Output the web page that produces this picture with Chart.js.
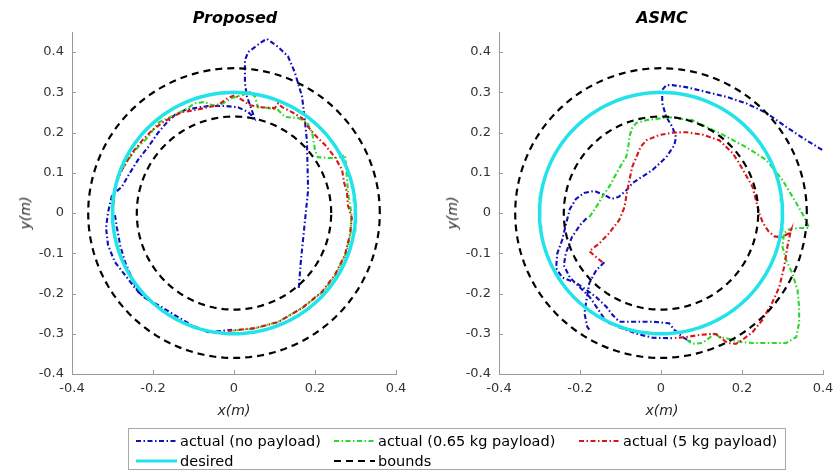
<!DOCTYPE html>
<html>
<head>
<meta charset="utf-8">
<script src="https://cdn.jsdelivr.net/npm/chart.js@4.4.1/dist/chart.umd.min.js"></script>
<style>
  body { margin: 0; width: 833px; height: 472px; overflow: hidden; background: #fff; position: relative;
         font-family: "DejaVu Sans", sans-serif; }
  canvas { position: absolute; top: 0; }
  .lbl { position: absolute; transform: translate(-50%, -50%); white-space: nowrap; line-height: 1; }
  .title { font-size: 16px; font-weight: bold; font-style: italic; color: #000; }
  .axis { font-size: 14px; font-style: italic; color: #262626; }
  .rot { transform: translate(-50%, -50%) rotate(-90deg); }
  #legend { position: absolute; left: 128px; top: 428px; width: 658px; height: 42px;
            border: 1px solid #a8a8a8; box-sizing: border-box; background: #fff; }
  .item { position: absolute; display: flex; align-items: center; font-size: 14.5px; color: #000; height: 20px; }
  .item svg { margin-right: 3px; }
</style>
</head>
<body>
<canvas id="proposed" width="420" height="420" style="left:0"></canvas>
<canvas id="asmc" width="427" height="420" style="left:420px"></canvas>

<div class="lbl title" style="left:235px;top:18px">Proposed</div>
<div class="lbl title" style="left:662px;top:18px">ASMC</div>
<div class="lbl axis rot" style="left:25px;top:213px">y(m)</div>
<div class="lbl axis rot" style="left:452px;top:213px">y(m)</div>
<div class="lbl axis" style="left:234px;top:410px">x(m)</div>
<div class="lbl axis" style="left:662px;top:410px">x(m)</div>
<div id="legend"></div>

<script>
// axis ticks
const xTicks = [-0.4, -0.2, 0, 0.2, 0.4];
const yTicks = [-0.4, -0.3, -0.2, -0.1, 0, 0.1, 0.2, 0.3, 0.4];

// reference circle radii (m)
const desiredRadius = 0.3;
const boundRadii = [0.24, 0.36];

const seriesLabels = ['actual (no payload)', 'actual (0.65 kg payload)', 'actual (5 kg payload)', 'desired', 'bounds'];

// measured trajectories, [x, y] in metres; null splits a track into pieces
const proposedNoPayload = [
  [0.16,-0.186],[0.165,-0.12],[0.183,0.057],[0.18,0.18],[0.175,0.23],[0.168,0.29],[0.15,0.35],[0.133,0.39],
  [0.109,0.413],[0.081,0.433],[0.065,0.423],[0.035,0.40],[0.027,0.38],[0.027,0.323],[0.032,0.289],[0.044,0.256],
  [0.05,0.236],[0.035,0.251],[0.01,0.263],[-0.022,0.266],[-0.064,0.266],[-0.096,0.261],[-0.121,0.256],
  [-0.146,0.244],[-0.165,0.226],[-0.188,0.199],[-0.212,0.164],[-0.237,0.132],[-0.257,0.1],[-0.277,0.065],
  [-0.301,0.045],[-0.311,0.002],[-0.316,-0.037],[-0.311,-0.08],[-0.294,-0.122],[-0.269,-0.154],[-0.244,-0.187],
  [-0.22,-0.211],[-0.178,-0.234],[-0.146,-0.254],[-0.104,-0.279],[-0.064,-0.296],[-0.03,-0.293],[-0.005,-0.29],
  null,
  [-0.294,-0.005],[-0.289,-0.037],[-0.281,-0.08],[-0.269,-0.122],[-0.252,-0.162],[-0.237,-0.196],[-0.212,-0.216]
];
const proposedLight = [
  [-0.298,0.03],[-0.287,0.09],[-0.262,0.132],[-0.237,0.164],[-0.212,0.189],[-0.188,0.224],[-0.163,0.236],
  [-0.138,0.248],[-0.114,0.261],[-0.096,0.273],[-0.072,0.276],[-0.054,0.268],[-0.03,0.271],[-0.005,0.286],
  [0.02,0.293],[0.04,0.301],[0.052,0.289],[0.059,0.263],[0.084,0.261],[0.109,0.256],[0.126,0.239],[0.158,0.236],
  [0.18,0.226],[0.193,0.199],[0.2,0.157],[0.207,0.139],[0.232,0.137],[0.257,0.137],[0.274,0.144],[0.277,0.114],
  [0.279,0.082],[0.283,0.04],[0.29,0.0],[0.288,-0.05],[0.277,-0.1],[0.252,-0.152],[0.22,-0.195],[0.17,-0.235],
  [0.11,-0.27],[0.05,-0.287],[-0.01,-0.293]
];
const proposedHeavy = [
  [-0.298,0.02],[-0.294,0.065],[-0.277,0.107],[-0.252,0.149],[-0.227,0.18],[-0.202,0.206],[-0.178,0.224],
  [-0.153,0.239],[-0.128,0.251],[-0.096,0.256],[-0.064,0.263],[-0.04,0.268],[-0.015,0.286],[0.002,0.293],
  [0.02,0.281],[0.04,0.268],[0.069,0.263],[0.101,0.261],[0.109,0.273],[0.119,0.263],[0.143,0.251],[0.168,0.236],
  [0.183,0.214],[0.2,0.194],[0.225,0.169],[0.249,0.139],[0.267,0.107],[0.272,0.075],[0.279,0.052],[0.281,0.02],
  [0.291,-0.012],[0.286,-0.055],[0.274,-0.104],[0.249,-0.154],[0.217,-0.196],[0.168,-0.236],[0.109,-0.271],
  [0.052,-0.286],[-0.015,-0.293]
];

const asmcNoPayload = [
  [0.398,0.157],[0.359,0.181],[0.309,0.214],[0.26,0.249],[0.21,0.273],[0.161,0.289],[0.112,0.301],[0.062,0.313],
  [0.028,0.318],[0.013,0.318],[0.003,0.306],[0.003,0.273],[0.013,0.239],[0.028,0.214],[0.037,0.189],[0.033,0.169],
  [0.013,0.139],[-0.021,0.107],[-0.07,0.075],[-0.085,0.057],[-0.105,0.04],[-0.122,0.035],[-0.14,0.045],
  [-0.165,0.055],[-0.19,0.05],[-0.21,0.035],[-0.225,0.01],[-0.234,-0.025],[-0.244,-0.067],[-0.256,-0.1],
  [-0.259,-0.137],[-0.244,-0.16],[-0.209,-0.174],[-0.184,-0.191],[-0.16,-0.209],[-0.135,-0.233],[-0.12,-0.253],
  [-0.103,-0.27],[-0.061,-0.27],[-0.021,-0.27],[0.02,-0.274],[0.033,-0.29],[0.053,-0.308],[0.074,-0.32],
  null,
  [-0.184,-0.013],[-0.2,-0.03],[-0.22,-0.06],[-0.235,-0.1],[-0.24,-0.13],[-0.225,-0.16],[-0.2,-0.185],
  [-0.175,-0.21],[-0.155,-0.24],[-0.135,-0.27],[-0.1,-0.285],[-0.06,-0.3],[-0.02,-0.31],[0.028,-0.311],
  null,
  [-0.14,-0.122],[-0.16,-0.142],[-0.177,-0.174],[-0.184,-0.216],[-0.189,-0.249],[-0.182,-0.283],[-0.177,-0.29]
];
const asmcLight = [
  [-0.177,-0.01],[-0.16,0.015],[-0.145,0.04],[-0.125,0.07],[-0.11,0.099],[-0.095,0.125],[-0.086,0.139],
  [-0.08,0.17],[-0.078,0.189],[-0.072,0.21],[-0.061,0.224],[-0.036,0.231],[0.02,0.238],[0.077,0.231],
  [0.144,0.199],[0.21,0.164],[0.26,0.132],[0.3,0.082],[0.334,0.025],[0.354,-0.01],[0.366,-0.037],[0.341,-0.037],
  [0.317,-0.04],[0.304,-0.05],[0.3,-0.084],[0.309,-0.117],[0.324,-0.149],[0.337,-0.191],[0.341,-0.233],
  [0.341,-0.273],[0.334,-0.308],[0.309,-0.323],[0.267,-0.323],[0.226,-0.323],[0.193,-0.32],[0.161,-0.311],
  [0.144,-0.308],[0.132,-0.298],[0.119,-0.311],[0.102,-0.323],[0.077,-0.325],[0.07,-0.32],[0.062,-0.313]
];
const asmcHeavy = [
  [-0.145,-0.122],[-0.177,-0.095],[-0.152,-0.075],[-0.128,-0.05],[-0.103,-0.017],[-0.09,0.015],[-0.086,0.04],
  [-0.078,0.082],[-0.071,0.115],[-0.061,0.139],[-0.05,0.165],[-0.036,0.181],[-0.004,0.194],[0.03,0.2],
  [0.062,0.201],[0.102,0.195],[0.144,0.181],[0.176,0.15],[0.193,0.124],[0.212,0.09],[0.226,0.065],[0.235,0.03],
  [0.242,0.0],[0.252,-0.025],[0.265,-0.045],[0.28,-0.058],[0.297,-0.06],[0.317,-0.05],[0.321,-0.042],
  [0.312,-0.084],[0.304,-0.134],[0.292,-0.184],[0.274,-0.224],[0.25,-0.266],[0.226,-0.296],[0.2,-0.316],
  [0.185,-0.325],[0.164,-0.323],[0.149,-0.311],[0.136,-0.301],[0.119,-0.301],[0.095,-0.303],[0.062,-0.308],
  [0.028,-0.311]
];

// line styles, same order as seriesLabels
const styles = [
  { color: '#1010b8', width: 2.1, dash: [5, 2.5, 1.5, 2.5] },
  { color: '#2bd82b', width: 2.1, dash: [5, 2.5, 1.5, 2.5] },
  { color: '#d81414', width: 2.1, dash: [5, 2.5, 1.5, 2.5] },
  { color: '#22e2ea', width: 3.5, dash: [] },
  { color: '#000000', width: 2.2, dash: [7, 5] }
];

const toPoints = pairs => pairs.map(p => p ? { x: p[0], y: p[1] } : { x: 0, y: null });

function circle(r) {
  const pts = [];
  for (let i = 0; i <= 180; i++) {
    const t = i / 180 * 2 * Math.PI;
    pts.push({ x: r * Math.cos(t), y: r * Math.sin(t) });
  }
  return pts;
}

const boundPoints = boundRadii.flatMap((r, i) => i ? [{ x: 0, y: null }, ...circle(r)] : circle(r));

// small inward tick marks, drawn the MATLAB way
const innerTicks = {
  id: 'innerTicks',
  beforeDatasetsDraw(chart) {
    const { ctx, chartArea: a, scales: { x, y } } = chart;
    ctx.save();
    ctx.strokeStyle = '#9a9a9a';
    ctx.lineWidth = 1;
    ctx.beginPath();
    x.ticks.forEach(t => {
      const p = Math.round(x.getPixelForValue(t.value)) + 0.5;
      ctx.moveTo(p, a.bottom); ctx.lineTo(p, a.bottom - 4);
    });
    y.ticks.forEach(t => {
      const p = Math.round(y.getPixelForValue(t.value)) + 0.5;
      ctx.moveTo(a.left, p); ctx.lineTo(a.left + 4, p);
    });
    ctx.stroke();
    ctx.restore();
  }
};

function dataset(points, s, order) {
  return {
    data: points, borderColor: s.color, borderWidth: s.width, borderDash: s.dash,
    pointRadius: 0, tension: 0, fill: false, spanGaps: false, order: order
  };
}

function makeChart(id, tracks, yAxisWidth) {
  const tickFont = { family: 'DejaVu Sans', size: 13 };
  return new Chart(document.getElementById(id), {
    type: 'line',
    data: {
      datasets: [
        dataset(toPoints(tracks[0]), styles[0], 4),
        dataset(toPoints(tracks[1]), styles[1], 3),
        dataset(toPoints(tracks[2]), styles[2], 2),
        dataset(circle(desiredRadius), styles[3], 1),
        dataset(boundPoints, styles[4], 0)
      ]
    },
    options: {
      responsive: false,
      animation: false,
      layout: { padding: { top: 32, right: 24, left: 0, bottom: 0 } },
      plugins: { legend: { display: false }, tooltip: { enabled: false } },
      scales: {
        x: {
          type: 'linear', min: -0.4, max: 0.4,
          afterBuildTicks: s => { s.ticks = xTicks.map(v => ({ value: v })); },
          afterFit: s => { s.height = 46; },
          grid: { drawOnChartArea: false, drawTicks: false },
          border: { color: '#9a9a9a', width: 1 },
          ticks: { font: tickFont, color: '#333333', padding: 7, maxRotation: 0,
                   callback: v => String(v) }
        },
        y: {
          type: 'linear', min: -0.4, max: 0.45,
          afterBuildTicks: s => { s.ticks = yTicks.map(v => ({ value: v })); },
          afterFit: s => { s.width = yAxisWidth; },
          grid: { drawOnChartArea: false, drawTicks: false },
          border: { color: '#9a9a9a', width: 1 },
          ticks: { font: tickFont, color: '#333333', padding: 8,
                   callback: v => String(Math.round(v * 10) / 10) }
        }
      }
    },
    plugins: [innerTicks]
  });
}

makeChart('proposed', [proposedNoPayload, proposedLight, proposedHeavy], 72);
makeChart('asmc', [asmcNoPayload, asmcLight, asmcHeavy], 79);

// legend: two rows, three columns
const legendCells = [[7, 12], [205, 12], [450, 12], [7, 32], [205, 32]];
const legend = document.getElementById('legend');
seriesLabels.forEach((label, i) => {
  const s = styles[i];
  const item = document.createElement('div');
  item.className = 'item';
  item.style.left = legendCells[i][0] + 'px';
  item.style.top = (legendCells[i][1] - 10) + 'px';
  item.innerHTML =
    '<svg width="41" height="10"><line x1="0" y1="5" x2="41" y2="5" stroke="' + s.color +
    '" stroke-width="' + Math.min(s.width, 3) + '" stroke-dasharray="' + s.dash.join(' ') + '"/></svg>' +
    '<span></span>';
  item.querySelector('span').textContent = label;
  legend.appendChild(item);
});
</script>
</body>
</html>
